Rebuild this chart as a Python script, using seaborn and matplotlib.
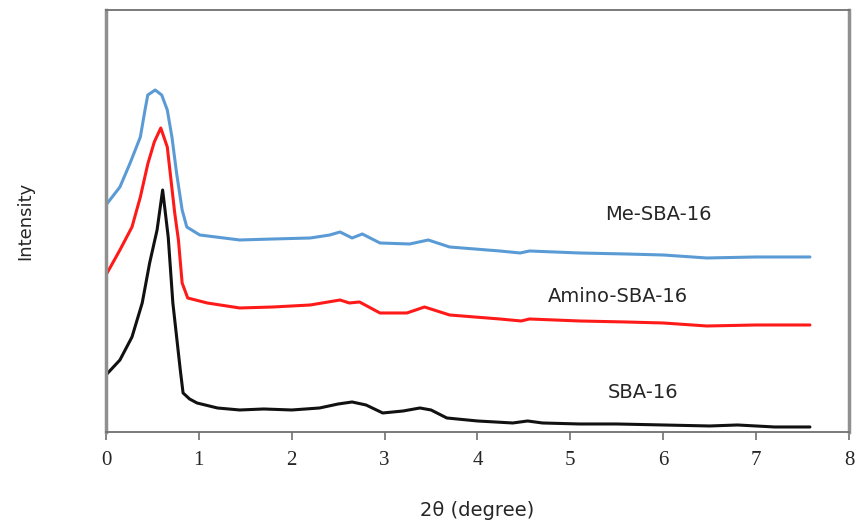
import pandas as pd
import seaborn as sns
import matplotlib.pyplot as plt

# 2theta (degree) and intensity (a.u.)
sba_x = [0.0, 0.15, 0.28, 0.39, 0.47, 0.55, 0.61, 0.67, 0.72, 0.80, 0.83, 0.90, 0.98, 1.2, 1.44, 1.7, 2.0, 2.3, 2.5, 2.65, 2.8, 2.98, 3.2, 3.38, 3.5, 3.67, 4.0, 4.38, 4.54, 4.7, 5.1, 5.5, 6.0, 6.5, 6.8, 7.2, 7.58]
sba_y = [57, 72, 95, 129, 169, 202, 242, 195, 129, 62, 39, 33, 29, 24, 22, 23, 22, 24, 28, 30, 27, 19, 21, 24, 22, 14, 11, 9, 11, 9, 8, 8, 7, 6, 7, 5, 5]

amino_x = [0.0, 0.15, 0.28, 0.37, 0.45, 0.52, 0.59, 0.66, 0.74, 0.78, 0.82, 0.88, 1.09, 1.44, 1.8, 2.2, 2.52, 2.62, 2.73, 2.95, 3.24, 3.43, 3.7, 4.24, 4.47, 4.56, 5.1, 5.6, 6.0, 6.47, 7.0, 7.58]
amino_y = [157, 182, 205, 235, 268, 290, 304, 285, 219, 192, 149, 134, 129, 124, 125, 127, 132, 129, 130, 119, 119, 125, 117, 113, 111, 113, 111, 110, 109, 106, 107, 107]

me_x = [0.0, 0.15, 0.26, 0.37, 0.42, 0.45, 0.53, 0.60, 0.66, 0.71, 0.76, 0.82, 0.87, 1.01, 1.44, 1.8, 2.2, 2.41, 2.52, 2.65, 2.76, 2.95, 3.27, 3.47, 3.7, 4.24, 4.46, 4.56, 5.1, 5.6, 6.0, 6.47, 7.0, 7.58]
me_y = [227, 245, 269, 295, 322, 337, 342, 337, 322, 295, 259, 222, 205, 197, 192, 193, 194, 197, 200, 194, 198, 189, 188, 192, 185, 181, 179, 181, 179, 178, 177, 174, 175, 175]

series_names = ["SBA-16", "Amino-SBA-16", "Me-SBA-16"]
series_colors = ["#111111", "#ff1a1a", "#5b9bd5"]

frames = []
for name, xs, ys in zip(series_names, [sba_x, amino_x, me_x], [sba_y, amino_y, me_y]):
    frames.append(pd.DataFrame({"two_theta": xs, "intensity": ys, "sample": name}))
df = pd.concat(frames, ignore_index=True)

sns.set_style("white")
plt.rcParams['font.family'] = ['DejaVu Sans']

fig = plt.figure(figsize=(8.61, 5.29), dpi=100)
ax = fig.add_axes([0.1231, 0.1834, 0.8629, 0.7977])

sns.lineplot(data=df, x="two_theta", y="intensity", hue="sample",
             palette=dict(zip(series_names, series_colors)),
             linewidth=2.2, legend=False, ax=ax, sort=False)
for line in ax.get_lines():
    line.set_solid_joinstyle('round')

ax.set_xlim(0, 8)
ax.set_ylim(0, 422)
ax.set_xticks(range(0, 9))
ax.set_xticklabels([str(i) for i in range(0, 9)], family='Liberation Serif', fontsize=15)
ax.set_yticks([])
ax.tick_params(axis='x', direction='out', length=6, width=1.2, color='#707070', pad=8, bottom=True)

for side in ['top', 'bottom']:
    ax.spines[side].set_color('#707070')
    ax.spines[side].set_linewidth(1.3)
for side in ['left', 'right']:
    ax.spines[side].set_color('#909090')
    ax.spines[side].set_linewidth(2.5)

ax.set_xlabel("2θ (degree)", fontsize=14, labelpad=22)
ax.set_ylabel("Intensity", fontsize=13, labelpad=52)

# curve labels
ax.text(5.95, 217, "Me-SBA-16", fontsize=14, ha='center', va='center')
ax.text(5.51, 135, "Amino-SBA-16", fontsize=14, ha='center', va='center')
ax.text(5.78, 39, "SBA-16", fontsize=14, ha='center', va='center')

fig.savefig("out.png", dpi=100)
